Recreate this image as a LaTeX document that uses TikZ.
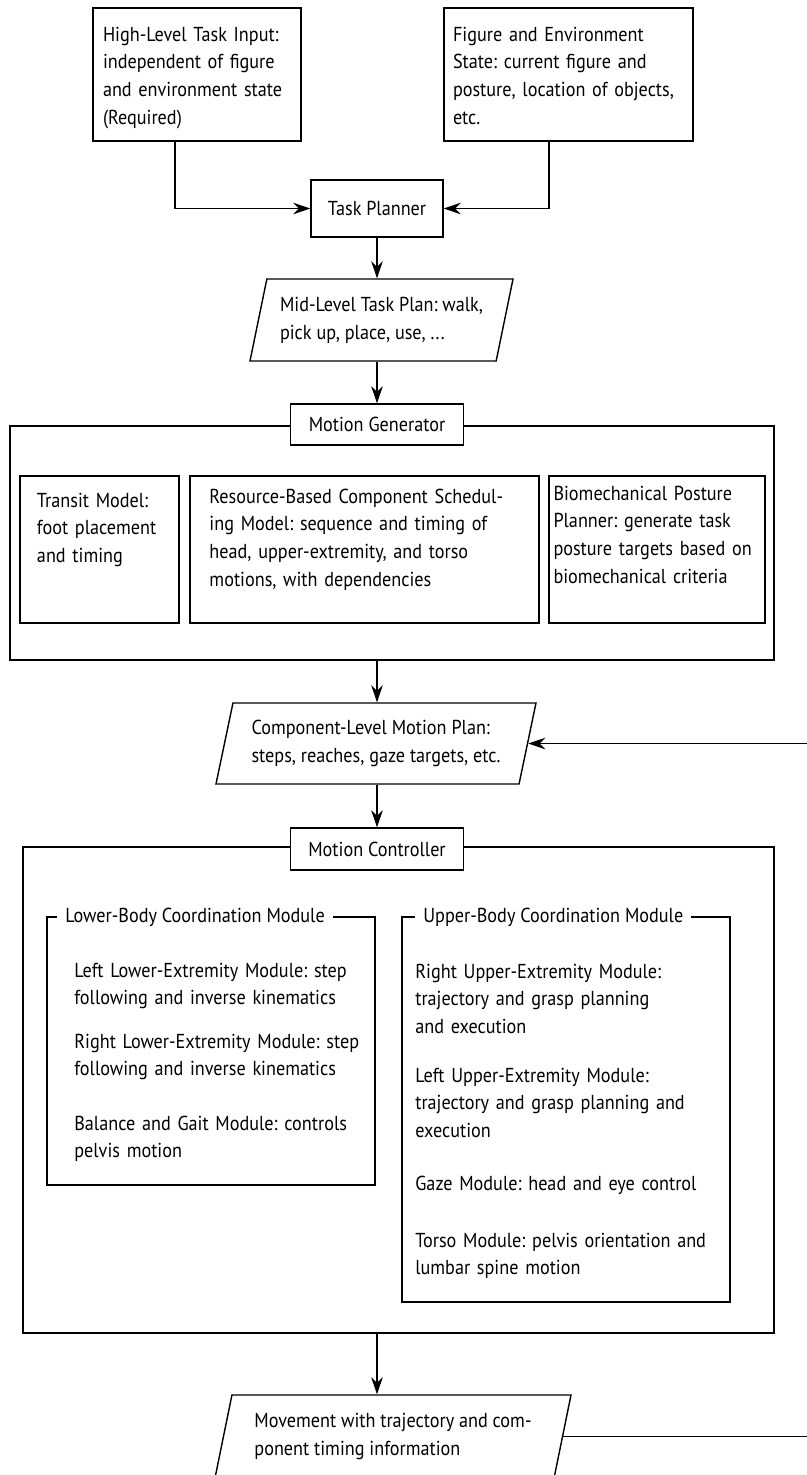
\documentclass[tikz,border=0pt]{standalone}
\usepackage{fontspec}
\setmainfont{PT Sans}[FakeStretch=0.9]
\usetikzlibrary{arrows.meta,shapes.geometric}

\begin{document}
\begin{tikzpicture}[x=0.2mm, y=-0.2mm,
        font=\fontsize{11.5pt}{15.9pt}\selectfont\frenchspacing,
        textbox/.style={draw, line width=0.8pt, align=left, text height=0pt},
        tagbox/.style={draw, fill=white, line width=0.8pt, inner sep=0pt},
        group/.style={draw, line width=0.8pt, inner sep=0pt},
        grouptitle/.style={fill=white, inner xsep=1.6mm, inner ysep=1pt, anchor=west},
        entry/.style={anchor=base west, align=left, inner sep=0pt},
        plan/.style={draw, line width=0.8pt, trapezium, trapezium left angle=70,
            trapezium right angle=110, trapezium stretches body, align=left, inner sep=0pt},
        flow/.style={line width=0.6pt, -{Stealth[length=3.4mm, width=2.3mm, inset=1.1mm]}}
    ]
    \useasboundingbox (0, 0) rectangle (807, 1475);
    \clip (0, 0) rectangle (807, 1475);

    \coordinate (axis) at (377, 0);
    \coordinate (loop) at (840, 0);

    % inputs, planner and task plan
    \draw
        (197, 74.5) node (hl) [textbox, inner xsep=2mm, inner ysep=6.6mm, text width=37.6mm, text depth=13.4mm]
            {High-Level Task Input:\\independent of figure\\and environment state\\(Required)}
        (568.5, 74.5) node (fe) [textbox, inner xsep=1.8mm, inner ysep=6.6mm, text width=46.2mm, text depth=13.4mm]
            {Figure and Environment\\State: current figure and\\posture, location of objects,\\etc.}
        (377, 208.5) node (tp) [tagbox, minimum width=26.4mm, minimum height=11.4mm] {Task Planner}
        (381.5, 320) node (mid) [plan, minimum width=52.6mm, minimum height=16.4mm]
            {Mid-Level Task Plan: walk,\\pick up, place, use, ...}
    ;

    % motion generator
    \draw
        (392, 543) node (mgframe) [group, minimum width=152.8mm, minimum height=46.8mm] {}
        (377, 424.5) node (mglab) [tagbox, minimum width=34.6mm, minimum height=8.2mm] {Motion Generator}
        (99.5, 549.5) node (transit) [textbox, inner xsep=3.4mm, inner ysep=6.2mm, text width=25mm, text depth=17mm]
            {Transit Model:\\foot placement\\and timing}
        (364.5, 549.5) node (sched) [textbox, inner xsep=3.9mm, inner ysep=5.4mm, text width=62mm, text depth=18.6mm]
            {Resource-Based Component Schedul-\\ing Model: sequence and timing of\\head, upper-extremity, and torso\\motions, with dependencies}
        (657, 549.5) node (posture) [textbox, inner xsep=0.9mm, inner ysep=4.8mm, text width=41.4mm, text depth=19.8mm]
            {Biomechanical Posture\\Planner: generate task\\posture targets based on\\biomechanical criteria}
        (376, 743.5) node (clplan) [plan, minimum width=64mm, minimum height=16.2mm]
            {Component-Level Motion Plan:\\steps, reaches, gaze targets, etc.}
    ;

    % motion controller
    \draw
        (398.5, 1090) node (mcframe) [group, minimum width=150.2mm, minimum height=97.2mm] {}
        (377, 849) node (mclab) [tagbox, minimum width=34.6mm, minimum height=8.4mm] {Motion Controller}
        (211, 1051) node (lower) [group, minimum width=65.6mm, minimum height=53.6mm] {}
        (566, 1109.5) node (upper) [group, minimum width=65.6mm, minimum height=77mm] {}
        (57, 917) node (lowertitle) [grouptitle] {Lower-Body Coordination Module}
        (415, 917) node (uppertitle) [grouptitle] {Upper-Body Coordination Module}

        (74, 977) node (leftleg) [entry, text width=59mm]
            {Left Lower-Extremity Module: step\\following and inverse kinematics}
        (74, 1048) node (rightleg) [entry, text width=59mm]
            {Right Lower-Extremity Module: step\\following and inverse kinematics}
        (74, 1130) node (balance) [entry, text width=59mm]
            {Balance and Gait Module: controls\\pelvis motion}

        (415, 978) node (rightarm) [entry, text width=62mm]
            {Right Upper-Extremity Module:\\trajectory and grasp planning\\and execution}
        (415, 1082) node (leftarm) [entry, text width=62mm]
            {Left Upper-Extremity Module:\\trajectory and grasp planning and\\execution}
        (415, 1190) node (gaze) [entry, text width=62mm]
            {Gaze Module: head and eye control}
        (415, 1247) node (torso) [entry, text width=62mm]
            {Torso Module: pelvis orientation and\\lumbar spine motion}

        (393, 1436.5) node (move) [plan, minimum width=71.2mm, minimum height=16.6mm]
            {Movement with trajectory and com-\\ponent timing information}
    ;

    \draw[flow] ([xshift=-4.4mm]hl.south) |- (tp.west);
    \draw[flow] ([xshift=-3.9mm]fe.south) |- (tp.east);
    \draw[flow] (tp.south) -- (axis |- mid.north);
    \draw[flow] (axis |- mid.south) -- (mglab.north);
    \draw[flow] (axis |- mgframe.south) -- (axis |- clplan.north);
    \draw[flow] (axis |- clplan.south) -- (mclab.north);
    \draw[flow] (axis |- mcframe.south) -- (axis |- move.north);
    \draw[flow] (move.east) -| (loop |- clplan.east) -- (clplan.east);

\end{tikzpicture}
\end{document}
